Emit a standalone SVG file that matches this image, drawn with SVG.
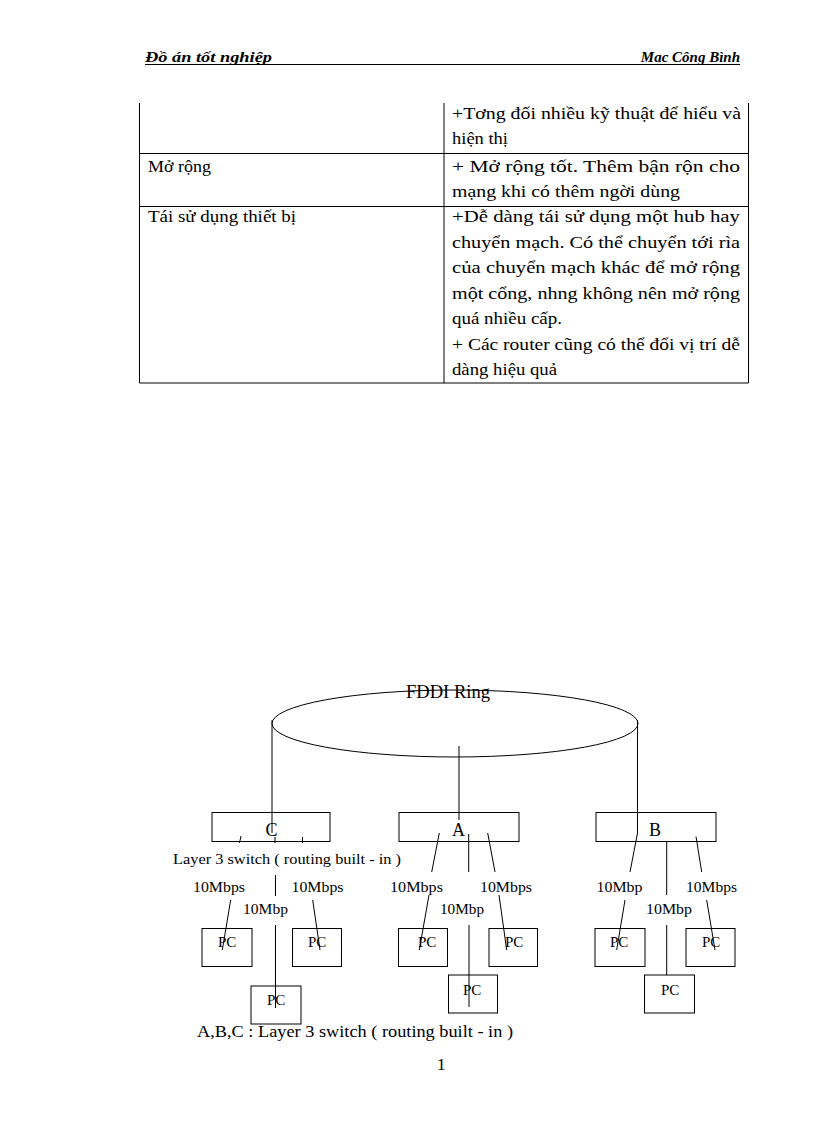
<svg xmlns="http://www.w3.org/2000/svg" width="816" height="1123" viewBox="0 0 816 1123">
<style>
text{font-family:"Liberation Serif","DejaVu Serif","Times New Roman",serif;fill:#000}
.hd{font-size:15px;font-style:italic;font-weight:bold}
.tb{font-size:17px;white-space:pre}
.lb{font-size:15px}
.big{font-size:18px}
.ln{stroke:#000;stroke-width:1;fill:none}
.bx{stroke:#000;stroke-width:1;fill:none}
</style>
<rect width="816" height="1123" fill="#fff"/>
<g id="header">
<text class="hd" x="145" y="62" textLength="127" lengthAdjust="spacingAndGlyphs">Đồ án tốt nghiệp</text>
<text class="hd" x="740" y="62" text-anchor="end">Mac Công Bình</text>
<line class="ln" x1="145" y1="64.5" x2="740" y2="64.5"/>
</g>
<g id="table">
<g class="ln">
<line x1="139.5" y1="103" x2="139.5" y2="383"/>
<line x1="444" y1="103" x2="444" y2="383"/>
<line x1="748.5" y1="103" x2="748.5" y2="383"/>
<line x1="139.5" y1="153.5" x2="748.5" y2="153.5"/>
<line x1="139.5" y1="206.5" x2="748.5" y2="206.5"/>
<line x1="139.5" y1="383" x2="748.5" y2="383"/>
</g>
<g class="tb" xml:space="preserve">
<text x="452" y="119" textLength="289" lengthAdjust="spacingAndGlyphs">+Tơng  đối  nhiều  kỹ  thuật  để  hiểu  và</text>
<text x="452" y="144" textLength="56" lengthAdjust="spacingAndGlyphs">hiện thị</text>
<text x="148" y="172" textLength="63" lengthAdjust="spacingAndGlyphs">Mở rộng</text>
<text x="452" y="172" textLength="288" lengthAdjust="spacingAndGlyphs">+  Mở  rộng  tốt.  Thêm  bận  rộn  cho</text>
<text x="452" y="197" textLength="228" lengthAdjust="spacingAndGlyphs">mạng khi có thêm ngời   dùng</text>
<text x="148" y="222" textLength="148" lengthAdjust="spacingAndGlyphs">Tái sử dụng thiết bị</text>
<text x="452" y="222" textLength="288" lengthAdjust="spacingAndGlyphs">+Dễ  dàng  tái  sử  dụng  một  hub  hay</text>
<text x="452" y="248" textLength="288" lengthAdjust="spacingAndGlyphs">chuyển  mạch.  Có  thể  chuyển  tới  rìa</text>
<text x="452" y="273" textLength="288" lengthAdjust="spacingAndGlyphs">của  chuyển  mạch  khác  để  mở  rộng</text>
<text x="452" y="299" textLength="288" lengthAdjust="spacingAndGlyphs">một cổng, nhng   không nên mở rộng</text>
<text x="452" y="324" textLength="110" lengthAdjust="spacingAndGlyphs">quá nhiều cấp.</text>
<text x="452" y="350" textLength="288" lengthAdjust="spacingAndGlyphs">+ Các router cũng có thể đổi vị trí dễ</text>
<text x="452" y="375" textLength="105" lengthAdjust="spacingAndGlyphs">dàng hiệu quả</text>
</g>
</g>
<g id="ring">
<ellipse class="bx" cx="455" cy="723.5" rx="183" ry="33.5"/>
<text class="big" x="406" y="698" textLength="84" lengthAdjust="spacingAndGlyphs">FDDI Ring</text>
</g>
<g id="switch-C">
<rect class="bx" x="212" y="812.5" width="118" height="29"/>
<text class="big" x="265.5" y="836">C</text>
</g>
<g id="switch-A">
<rect class="bx" x="399" y="812.5" width="120" height="29"/>
<text class="big" x="452" y="836">A</text>
</g>
<g id="switch-B">
<rect class="bx" x="596" y="812.5" width="120" height="29"/>
<text class="big" x="649" y="836">B</text>
</g>
<g id="pc-C1"><rect class="bx" x="202" y="928.5" width="50" height="38"/><text class="lb" x="218" y="947">PC</text></g>
<g id="pc-C2"><rect class="bx" x="292.5" y="928.5" width="49" height="38"/><text class="lb" x="308" y="947">PC</text></g>
<g id="pc-C3"><rect class="bx" x="251" y="986" width="50" height="38"/><text class="lb" x="267" y="1005">PC</text></g>
<g id="pc-A1"><rect class="bx" x="398.5" y="928.5" width="49" height="38"/><text class="lb" x="418" y="947">PC</text></g>
<g id="pc-A2"><rect class="bx" x="489" y="928.5" width="48.5" height="38"/><text class="lb" x="505" y="947">PC</text></g>
<g id="pc-A3"><rect class="bx" x="448.5" y="975" width="49" height="38"/><text class="lb" x="463" y="995">PC</text></g>
<g id="pc-B1"><rect class="bx" x="595" y="928.5" width="50" height="38"/><text class="lb" x="610" y="947">PC</text></g>
<g id="pc-B2"><rect class="bx" x="686" y="928.5" width="49" height="38"/><text class="lb" x="702" y="947">PC</text></g>
<g id="pc-B3"><rect class="bx" x="644.5" y="975" width="50" height="38"/><text class="lb" x="661" y="995">PC</text></g>
<g id="connectors" class="ln">
<line x1="272" y1="720" x2="272" y2="833"/>
<line x1="459" y1="746" x2="459" y2="820"/>
<polyline points="637.5,720 637.5,833 630,872"/>
<line x1="241" y1="836" x2="239.5" y2="843"/>
<line x1="275" y1="837" x2="275" y2="843"/>
<line x1="302.5" y1="837" x2="302.5" y2="843"/>
<line x1="275.5" y1="875" x2="275.5" y2="896"/>
<line x1="230.7" y1="900" x2="222.3" y2="950"/>
<line x1="312.7" y1="900" x2="320" y2="950"/>
<line x1="275.5" y1="925" x2="275.5" y2="1008"/>
<line x1="439.3" y1="833" x2="431.7" y2="872"/>
<line x1="468.7" y1="834" x2="468.7" y2="872"/>
<line x1="487.7" y1="833" x2="495" y2="872"/>
<line x1="429" y1="895" x2="419.3" y2="950"/>
<line x1="499" y1="895" x2="506.7" y2="950"/>
<line x1="469" y1="925" x2="469" y2="1007"/>
<line x1="666.7" y1="841.5" x2="666.7" y2="895"/>
<line x1="696" y1="836.5" x2="701.7" y2="872"/>
<line x1="625" y1="900" x2="616.7" y2="950"/>
<line x1="706.7" y1="900" x2="715" y2="950"/>
<line x1="666.7" y1="925" x2="666.7" y2="975"/>
</g>
<g id="labels" class="lb">
<text x="173" y="864" textLength="228" lengthAdjust="spacingAndGlyphs">Layer 3 switch ( routing built - in )</text>
<text x="193" y="892" textLength="52" lengthAdjust="spacingAndGlyphs">10Mbps</text>
<text x="291.5" y="892" textLength="52" lengthAdjust="spacingAndGlyphs">10Mbps</text>
<text x="243" y="914" textLength="45" lengthAdjust="spacingAndGlyphs">10Mbp</text>
<text x="390" y="892" textLength="53" lengthAdjust="spacingAndGlyphs">10Mbps</text>
<text x="480" y="892" textLength="52" lengthAdjust="spacingAndGlyphs">10Mbps</text>
<text x="440" y="914" textLength="44" lengthAdjust="spacingAndGlyphs">10Mbp</text>
<text x="596.5" y="892" textLength="46" lengthAdjust="spacingAndGlyphs">10Mbp</text>
<text x="686" y="892" textLength="51" lengthAdjust="spacingAndGlyphs">10Mbps</text>
<text x="646" y="914" textLength="46" lengthAdjust="spacingAndGlyphs">10Mbp</text>
</g>
<g id="caption">
<text class="tb" x="197" y="1037" textLength="316" lengthAdjust="spacingAndGlyphs">A,B,C : Layer 3 switch ( routing built - in )</text>
<text class="tb" x="437" y="1070">1</text>
</g>
</svg>
